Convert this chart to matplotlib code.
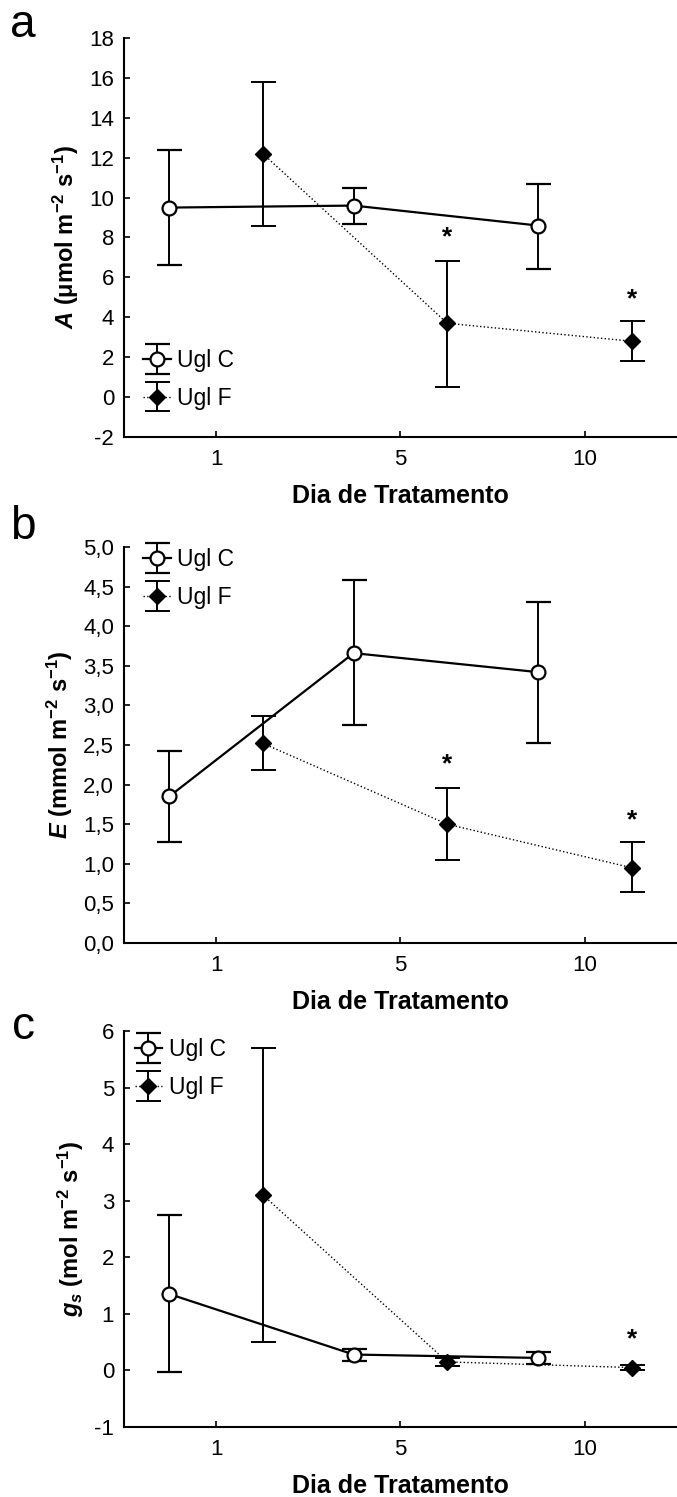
import numpy as np
import matplotlib
matplotlib.use("Agg")
from matplotlib import pyplot as plt
from matplotlib.container import ErrorbarContainer
from matplotlib.legend_handler import HandlerErrorbar

plt.rcParams["font.family"] = ["Liberation Sans", "DejaVu Sans"]
plt.rcParams["mathtext.fontset"] = "custom"
plt.rcParams["mathtext.rm"] = "Liberation Sans:bold"
plt.rcParams["mathtext.it"] = "Liberation Sans:bold:italic"
plt.rcParams["mathtext.bf"] = "Liberation Sans:bold"
plt.rcParams["mathtext.default"] = "rm"

# days of treatment (categorical)
days = ["1", "5", "10"]

# panel a: A (umol m-2 s-1)
a_ctrl = [9.5, 9.6, 8.6]
a_ctrl_lo = [6.6, 8.7, 6.4]
a_ctrl_hi = [12.4, 10.5, 10.7]
a_trt = [12.2, 3.7, 2.8]
a_trt_lo = [8.6, 0.5, 1.8]
a_trt_hi = [15.8, 6.8, 3.8]

# panel b: E (mmol m-2 s-1)
b_ctrl = [1.85, 3.66, 3.42]
b_ctrl_lo = [1.28, 2.75, 2.53]
b_ctrl_hi = [2.42, 4.58, 4.30]
b_trt = [2.52, 1.50, 0.95]
b_trt_lo = [2.18, 1.05, 0.64]
b_trt_hi = [2.86, 1.96, 1.27]

# panel c: gs (mol m-2 s-1)
c_ctrl = [1.35, 0.28, 0.22]
c_ctrl_lo = [-0.02, 0.17, 0.12]
c_ctrl_hi = [2.75, 0.38, 0.32]
c_trt = [3.1, 0.15, 0.05]
c_trt_lo = [0.5, 0.08, 0.01]
c_trt_hi = [5.7, 0.22, 0.09]

# significance marks: (day index, y position)
a_stars = [(1, 8.0), (2, 4.9)]
b_stars = [(1, 2.25), (2, 1.55)]
c_stars = [(2, 0.55)]

panels = [
    dict(letter="a", ctrl=(a_ctrl, a_ctrl_lo, a_ctrl_hi), trt=(a_trt, a_trt_lo, a_trt_hi),
         stars=a_stars, ylim=(-2, 18), yticks=np.arange(-2, 19, 2), fmt="{:g}",
         ylabel=r"$\mathit{A}$ (μmol m$^{-2}$ s$^{-1}$)",
         leg_anchor=(0.018, 0.145), rect=[0.183, 0.7081, 0.817, 0.2665], ly=25),
    dict(letter="b", ctrl=(b_ctrl, b_ctrl_lo, b_ctrl_hi), trt=(b_trt, b_trt_lo, b_trt_hi),
         stars=b_stars, ylim=(0, 5), yticks=np.arange(0, 5.01, 0.5), fmt="{:.1f}",
         ylabel=r"$\mathit{E}$ (mmol m$^{-2}$ s$^{-1}$)",
         leg_anchor=(0.018, 0.92), rect=[0.183, 0.3701, 0.817, 0.2645], ly=527),
    dict(letter="c", ctrl=(c_ctrl, c_ctrl_lo, c_ctrl_hi), trt=(c_trt, c_trt_lo, c_trt_hi),
         stars=c_stars, ylim=(-1, 6), yticks=np.arange(-1, 7, 1), fmt="{:g}",
         ylabel=r"$\mathit{g_s}$ (mol m$^{-2}$ s$^{-1}$)",
         leg_anchor=(0.003, 0.905), rect=[0.183, 0.0468, 0.817, 0.2645], ly=1027),
]

fig = plt.figure(figsize=(6.77, 14.97), dpi=100)
pos = np.arange(len(days))
off = 0.254

for p in panels:
    ax = fig.add_axes(p["rect"])
    m, lo, hi = p["ctrl"]
    m = np.array(m)
    err = [m - np.array(lo), np.array(hi) - m]
    ax.errorbar(pos - off, m, yerr=err, color="black", lw=1.6, elinewidth=1.4,
                capsize=9, capthick=1.4, marker="o", ms=10, mfc="white",
                mec="black", mew=1.6, label="Ugl C", zorder=3)
    m, lo, hi = p["trt"]
    m = np.array(m)
    err = [m - np.array(lo), np.array(hi) - m]
    ax.errorbar(pos + off, m, yerr=err, color="black", lw=1.0, ls=":",
                elinewidth=1.4, capsize=9, capthick=1.4, marker="D", ms=8,
                mfc="black", mec="black", label="Ugl F", zorder=4)
    for i, y in p["stars"]:
        ax.text(pos[i] + off, y, "*", ha="center", va="center",
                fontsize=19, fontweight="bold")

    ax.set_xlim(-0.5, 2.5)
    ax.set_ylim(*p["ylim"])
    ax.set_xticks(pos)
    ax.set_xticklabels(days)
    ax.set_yticks(p["yticks"])
    ax.set_yticklabels([p["fmt"].format(v).replace(".", ",") for v in p["yticks"]])
    ax.tick_params(direction="in", length=4, width=1.2, labelsize=16, pad=7)
    ax.tick_params(axis="x", pad=9)
    for s in ["top", "right"]:
        ax.spines[s].set_visible(False)
    for s in ["left", "bottom"]:
        ax.spines[s].set_linewidth(1.5)
    ax.set_xlabel("Dia de Tratamento", fontsize=18, fontweight="bold", labelpad=10)
    ax.set_ylabel(p["ylabel"], fontsize=17, fontweight="bold", labelpad=6)
    ax.legend(loc="center left", bbox_to_anchor=p["leg_anchor"], frameon=False,
              fontsize=16.5, handlelength=1.2, handletextpad=0.3, numpoints=1,
              labelspacing=0.65, borderaxespad=0.0,
              handler_map={ErrorbarContainer: HandlerErrorbar(yerr_size=0.65)})
    fig.text(23 / 677, 1 - p["ly"] / 1497, p["letter"], fontsize=33,
             ha="center", va="center")

fig.savefig("out.png", dpi=100)
